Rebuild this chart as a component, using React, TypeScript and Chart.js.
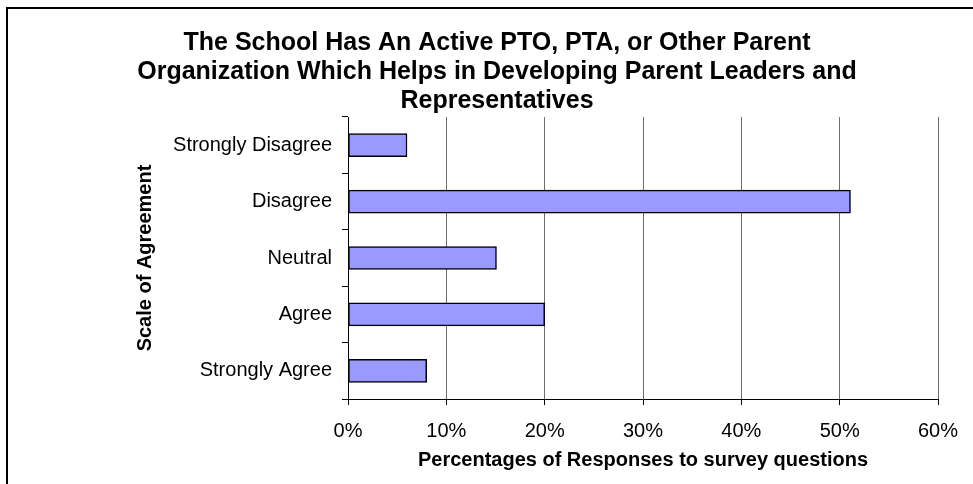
import React, { useEffect, useRef } from "react";
import { Chart, registerables } from "chart.js";

Chart.register(...registerables);

const titleLines = [
  "The School Has An Active PTO, PTA, or Other Parent",
  "Organization Which Helps in Developing Parent Leaders and",
  "Representatives",
];
const categories = ["Strongly Disagree", "Disagree", "Neutral", "Agree", "Strongly Agree"];
const percentages = [6.0, 51.1, 15.1, 20.0, 8.0];
const xTicks = [0, 10, 20, 30, 40, 50, 60];
const xAxisTitle = "Percentages of Responses to survey questions";
const yAxisTitle = "Scale of Agreement";

const FONT = "'Liberation Sans', Arial, sans-serif";

const titlePlugin = {
  id: "multiTitle",
  afterDraw(chart: any) {
    const ctx = chart.ctx;
    ctx.save();
    ctx.font = `bold 25px ${FONT}`;
    ctx.fillStyle = "#000";
    ctx.textAlign = "center";
    ctx.textBaseline = "alphabetic";
    const baselines = [50, 79, 108];
    titleLines.forEach((t, i) => ctx.fillText(t, 497, baselines[i]));
    ctx.restore();
  },
};

export default function App() {
  const ref = useRef<HTMLCanvasElement>(null);
  useEffect(() => {
    if (!ref.current) return;
    const chart = new Chart(ref.current, {
      type: "bar",
      data: {
        labels: categories,
        datasets: [
          {
            data: percentages,
            backgroundColor: "#9999FF",
            borderColor: "#000000",
            borderWidth: 1.5,
            borderSkipped: false,
            barThickness: 23,
            categoryPercentage: 1,
          },
        ],
      },
      options: {
        indexAxis: "y",
        animation: false,
        responsive: false,
        maintainAspectRatio: false,
        layout: { padding: { top: 117, right: 35, left: 0, bottom: 0 } },
        plugins: {
          legend: { display: false },
          title: { display: false },
          tooltip: { enabled: false },
        },
        scales: {
          x: {
            min: 0,
            max: 60,
            afterFit: (s: any) => {
              s.height = 85;
            },
            afterBuildTicks: (s: any) => {
              s.ticks = xTicks.map((v) => ({ value: v }));
            },
            ticks: {
              callback: (v: any) => `${v}%`,
              font: { family: FONT, size: 20 },
              color: "#000",
              padding: 14,
              maxRotation: 0,
            },
            grid: {
              color: "#6e6e6e",
              lineWidth: 1,
              tickColor: "#000",
              tickLength: 6,
              drawTicks: true,
            },
            border: { color: "#000", width: 1 },
            title: {
              display: true,
              text: xAxisTitle,
              font: { family: FONT, size: 20, weight: "bold" },
              color: "#000",
              padding: { top: 0, bottom: 11.5 },
            },
          },
          y: {
            afterFit: (s: any) => {
              s.width = 348;
            },
            ticks: {
              font: { family: FONT, size: 20 },
              color: "#000",
              padding: 10,
            },
            grid: {
              offset: true,
              drawOnChartArea: false,
              drawTicks: true,
              tickLength: 6,
              color: "#000",
              tickColor: "#000",
            },
            border: { color: "#000", width: 1 },
            title: {
              display: true,
              text: yAxisTitle,
              font: { family: FONT, size: 20, weight: "bold" },
              color: "#000",
              padding: { top: 133.5, bottom: 0 },
            },
          },
        },
      },
      plugins: [titlePlugin],
    });
    return () => chart.destroy();
  }, []);

  return (
    <div
      style={{
        position: "fixed",
        left: 0,
        top: 0,
        width: 973,
        height: 484,
        overflow: "hidden",
        background: "#fff",
      }}
    >
      <div
        style={{
          position: "absolute",
          left: 6,
          top: 7,
          width: 1100,
          height: 700,
          border: "2px solid #000",
          boxSizing: "border-box",
        }}
      />
      <canvas
        ref={ref}
        width={973}
        height={484}
        style={{ position: "absolute", left: 0, top: 0, width: 973, height: 484 }}
      />
    </div>
  );
}
